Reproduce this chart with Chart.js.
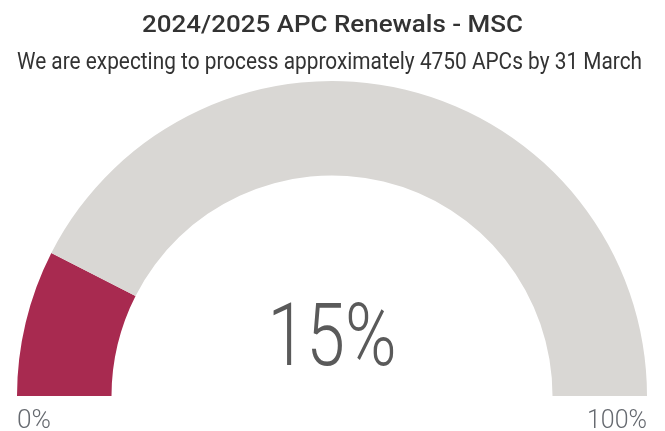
<!DOCTYPE html>
<html>
<head>
<meta charset="utf-8">
<script src="https://cdn.jsdelivr.net/npm/chart.js@4"></script>
<style>
  html, body { margin: 0; padding: 0; background: #ffffff; }
  #wrap { width: 665px; height: 431px; position: relative; }
</style>
</head>
<body>
<div id="wrap"><canvas id="c" width="665" height="431"></canvas></div>
<script>
// ---- data ----
const titleText = "2024/2025 APC Renewals - MSC";
const subtitleText = "We are expecting to process approximately 4750 APCs by 31 March";
const categories = ["Processed", "Remaining"];
const seriesValues = [15, 85];
const gaugeValue = 15;
const gaugeMin = 0;
const gaugeMax = 100;
const tickLabels = ["0%", "100%"];

const colors = ["#a82a50", "#d9d7d4"];

function drawFit(ctx, text, x, y, font, color, align, targetWidth) {
  ctx.save();
  ctx.font = font;
  ctx.fillStyle = color;
  ctx.textBaseline = "alphabetic";
  const w = ctx.measureText(text).width;
  const s = targetWidth ? targetWidth / w : 1;
  let left;
  const tw = w * s;
  if (align === "center") left = x - tw / 2;
  else if (align === "right") left = x - tw;
  else left = x;
  ctx.translate(left, y);
  ctx.scale(s, 1);
  ctx.textAlign = "left";
  ctx.fillText(text, 0, 0);
  ctx.restore();
}

const gaugeText = {
  id: "gaugeText",
  afterDraw(chart) {
    const ctx = chart.ctx;
    const arc = chart.getDatasetMeta(0).data[0];
    const cx = arc.x, cy = arc.y, r = arc.outerRadius;
    // title & subtitle
    drawFit(ctx, titleText, chart.width / 2, 32, "500 24px Roboto", "#333333", "center", 381);
    drawFit(ctx, subtitleText, 329.5, 69, "400 23px Roboto", "#333333", "center", 625);
    // center value
    const pct = Math.round((gaugeValue - gaugeMin) / (gaugeMax - gaugeMin) * 100) + "%";
    drawFit(ctx, pct, cx, cy - 31, "300 87px Roboto", "#5a5a5a", "center", 129);
    // min / max labels
    drawFit(ctx, tickLabels[0], cx - r, cy + 32, "300 25px Roboto", "#666a70", "left", 34);
    drawFit(ctx, tickLabels[1], cx + r, cy + 32, "300 25px Roboto", "#666a70", "right", 60);
  }
};

new Chart(document.getElementById("c"), {
  type: "doughnut",
  data: {
    labels: categories,
    datasets: [{
      data: seriesValues,
      backgroundColor: colors,
      borderWidth: 0,
      hoverOffset: 0
    }]
  },
  options: {
    responsive: false,
    animation: false,
    rotation: -90,
    circumference: 180,
    cutout: "70%",
    layout: { padding: { left: 16, right: 17, top: 81, bottom: 35 } },
    plugins: {
      legend: { display: false },
      tooltip: { enabled: false },
      title: { display: false }
    }
  },
  plugins: [gaugeText]
});
</script>
</body>
</html>
